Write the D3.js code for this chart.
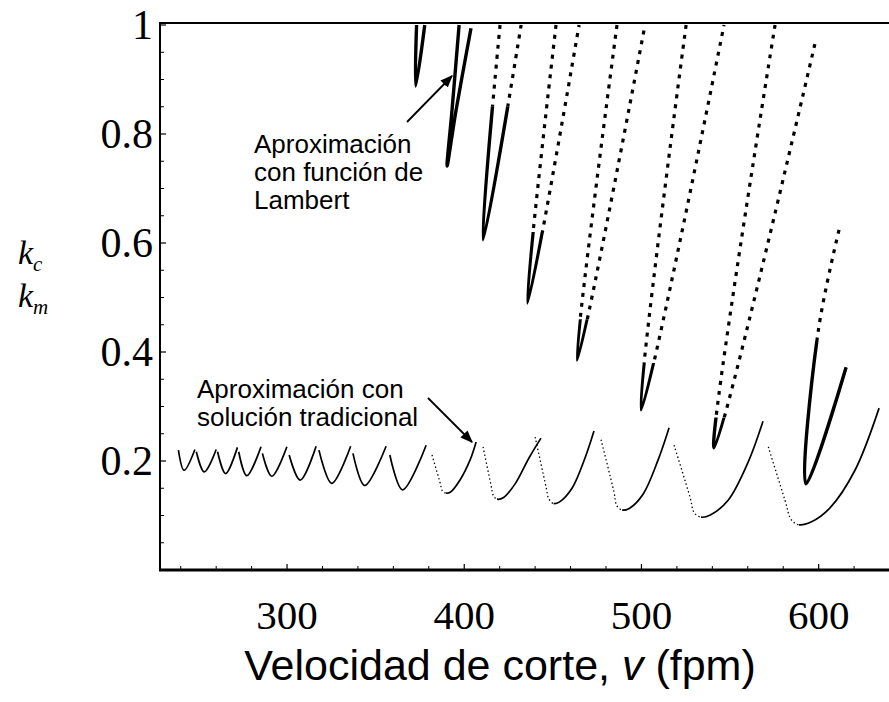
<!DOCTYPE html>
<html><head><meta charset="utf-8">
<script src="https://cdn.jsdelivr.net/npm/d3@7"></script>
<style>body{margin:0;background:#fff}</style>
</head><body><svg id="c" width="889" height="702"></svg>
<script>
const xTickValues=[300,400,500,600];
const yTickValues=[0.2,0.4,0.6,0.8,1];
const xMinorTicks=[240,260,280,320,340,360,380,420,440,460,480,520,540,560,580,620];
const yMinorTicks=[0.05,0.1,0.15,0.25,0.3,0.35,0.45,0.5,0.55,0.65,0.7,0.75,0.85,0.9,0.95];

// Traditional solution lobes: [v, k]
const traditionalLobes=[
 [[238.7,0.220],[241.9,0.183],[248.0,0.221]],
 [[248.8,0.217],[253.3,0.180],[260.0,0.221]],
 [[260.8,0.217],[265.3,0.177],[272.0,0.225]],
 [[272.7,0.217],[277.3,0.173],[285.3,0.226]],
 [[286.1,0.214],[291.4,0.172],[299.9,0.226]],
 [[301.2,0.211],[307.4,0.165],[316.4,0.227]],
 [[318.0,0.220],[325.2,0.159],[335.9,0.227]],
 [[337.2,0.214],[343.8,0.155],[355.9,0.227]],
 [[358.0,0.211],[365.2,0.147],[378.5,0.229]],
 [[381.8,0.211],[386.3,0.161],[387.7,0.145],[389.7,0.141],[392.3,0.143],[397.6,0.165],[403.3,0.202],[406.7,0.235]],
 [[410.6,0.226],[415.1,0.156],[416.5,0.136],[418.5,0.130],[422.2,0.133],[428.7,0.158],[436.6,0.206],[443.3,0.242]],
 [[440.0,0.244],[446.2,0.152],[447.8,0.130],[450.4,0.122],[453.8,0.125],[460.8,0.150],[468.2,0.206],[473.2,0.255]],
 [[477.2,0.239],[484.5,0.143],[486.1,0.118],[489.1,0.110],[493.1,0.113],[500.9,0.139],[509.4,0.202],[515.6,0.261]],
 [[518.4,0.229],[527.4,0.134],[529.8,0.105],[533.6,0.097],[538.9,0.101],[548.9,0.128],[560.2,0.198],[568.6,0.273]],
 [[571.6,0.226],[581.0,0.128],[584.6,0.092],[588.9,0.083],[595.7,0.088],[606.4,0.114],[620.5,0.183],[634.1,0.297]]
];
// lobes from this index on have a sparse (dotted) left branch
const tradSparseFrom=9;

// Lambert-function approximation lobes: [v, k]
const lambertLobes=[
 [[373.1,1.0],[372.6,0.888],[377.7,1.0]],
 [[397.1,1.0],[393.1,0.844],[390.3,0.741],[395.4,0.844],[403.8,0.994]],
 [[420.2,1.0],[410.6,0.606],[432.1,1.0]],
 [[451.8,1.0],[435.7,0.490],[464.8,1.0]],
 [[486.2,1.0],[463.7,0.385],[502.0,1.0]],
 [[525.2,1.0],[499.8,0.294],[546.6,1.0]],
 [[575.4,1.0],[541.0,0.224],[598.0,0.967]],
 [[611.5,0.624],[599.7,0.437],[592.9,0.158],[615.5,0.372]]
];
// level up to which the plotted points of each Lambert lobe are dense (drawn solid)
const lambertDenseTop=[1.0,1.0,0.85,0.62,0.46,0.38,0.28,0.42];

const svg=d3.select('#c');
const x=d3.scaleLinear().domain([228.3,639.7]).range([160,889]);
const y=d3.scaleLinear().domain([0,1]).range([570,25]);

// frame
svg.append('line').attr('x1',160).attr('x2',889).attr('y1',23).attr('y2',23).attr('stroke','#000').attr('stroke-width',2);
svg.append('line').attr('x1',160).attr('x2',160).attr('y1',22).attr('y2',570).attr('stroke','#000').attr('stroke-width',2);
svg.append('line').attr('x1',159).attr('x2',889).attr('y1',570).attr('y2',570).attr('stroke','#000').attr('stroke-width',3);

// ticks
const gx=svg.append('g');
gx.selectAll('line.maj').data(xTickValues).join('line').attr('class','maj').attr('x1',d=>x(d)).attr('x2',d=>x(d)).attr('y1',570).attr('y2',564).attr('stroke','#000').attr('stroke-width',1.2);
gx.selectAll('line.min').data(xMinorTicks).join('line').attr('class','min').attr('x1',d=>x(d)).attr('x2',d=>x(d)).attr('y1',570).attr('y2',566).attr('stroke','#000').attr('stroke-width',1);
gx.selectAll('text').data(xTickValues).join('text').attr('x',d=>x(d)).attr('y',629).attr('text-anchor','middle')
 .attr('font-family','Liberation Serif, Times New Roman, serif').attr('font-size',41).text(d=>d);
const gy=svg.append('g');
gy.selectAll('line.maj').data(yTickValues).join('line').attr('class','maj').attr('x1',160).attr('x2',166).attr('y1',d=>y(d)).attr('y2',d=>y(d)).attr('stroke','#000').attr('stroke-width',1.2);
gy.selectAll('line.min').data(yMinorTicks).join('line').attr('class','min').attr('x1',160).attr('x2',164).attr('y1',d=>y(d)).attr('y2',d=>y(d)).attr('stroke','#000').attr('stroke-width',1);
gy.selectAll('text').data(yTickValues).join('text').attr('x',153).attr('y',d=>y(d)+14).attr('text-anchor','end')
 .attr('font-family','Liberation Serif, Times New Roman, serif').attr('font-size',42).text(d=>d===1?'1':d.toFixed(1));

// axis titles
const kt=svg.append('g').attr('font-family','Liberation Serif, Times New Roman, serif').attr('font-style','italic');
kt.append('text').attr('x',18).attr('y',264).attr('font-size',34).html('k<tspan font-size="21" dy="7">c</tspan>');
kt.append('text').attr('x',18).attr('y',307).attr('font-size',34).html('k<tspan font-size="21" dy="7">m</tspan>');
svg.append('text').attr('x',500).attr('y',680).attr('text-anchor','middle').attr('font-family','Liberation Sans, Arial, sans-serif').attr('font-size',43)
 .html('Velocidad de corte, <tspan font-style="italic">v</tspan> (fpm)');

// curves
const line=d3.line().x(d=>x(d[0])).y(d=>y(d[1])).curve(d3.curveCatmullRom.alpha(0.5));
const plot=svg.append('g');
const defs=svg.append('defs');

traditionalLobes.forEach((lobe,i)=>{
  const mi=d3.minIndex(lobe,d=>d[1]);
  if(i<tradSparseFrom){
    plot.append('path').attr('d',line(lobe)).attr('fill','none').attr('stroke','#000').attr('stroke-width',1.7);
  } else {
    const cid='tc'+i, xm=x(lobe[mi][0]);
    defs.append('clipPath').attr('id',cid+'L').append('rect').attr('x',0).attr('y',0).attr('width',xm).attr('height',702);
    defs.append('clipPath').attr('id',cid+'R').append('rect').attr('x',xm).attr('y',0).attr('width',889).attr('height',702);
    plot.append('path').attr('d',line(lobe)).attr('clip-path',`url(#${cid}L)`).attr('fill','none').attr('stroke','#000')
      .attr('stroke-width',1.3).attr('stroke-dasharray','1.4 2.6');
    plot.append('path').attr('d',line(lobe)).attr('clip-path',`url(#${cid}R)`).attr('fill','none').attr('stroke','#000').attr('stroke-width',1.7);
  }
});

lambertLobes.forEach((lobe,i)=>{
  const cid='lc'+i, yd=y(lambertDenseTop[i]);
  defs.append('clipPath').attr('id',cid+'D').append('rect').attr('x',0).attr('y',yd).attr('width',889).attr('height',702);
  defs.append('clipPath').attr('id',cid+'S').append('rect').attr('x',0).attr('y',0).attr('width',889).attr('height',yd);
  plot.append('path').attr('d',line(lobe)).attr('clip-path',`url(#${cid}D)`).attr('fill','none').attr('stroke','#000').attr('stroke-width',3.4);
  plot.append('path').attr('d',line(lobe)).attr('clip-path',`url(#${cid}S)`).attr('fill','none').attr('stroke','#000')
    .attr('stroke-width',3.2).attr('stroke-dasharray','4 6');
});

// annotations
const ann=svg.append('g').attr('font-family','Liberation Sans, Arial, sans-serif').attr('font-size',26);
[['Aproximación',153],['con función de',181],['Lambert',209]].forEach(([t,yy])=>ann.append('text').attr('x',254).attr('y',yy).text(t));
[['Aproximación con',398],['solución tradicional',426]].forEach(([t,yy])=>ann.append('text').attr('x',197).attr('y',yy).text(t));
defs.append('marker').attr('id','ah').attr('viewBox','0 0 10 10').attr('refX',9).attr('refY',5)
 .attr('markerWidth',7).attr('markerHeight',7).attr('orient','auto').append('path').attr('d','M0,1L10,5L0,9z').attr('fill','#000');
svg.append('line').attr('x1',407).attr('y1',122).attr('x2',452).attr('y2',76).attr('stroke','#000').attr('stroke-width',1.8).attr('marker-end','url(#ah)');
svg.append('line').attr('x1',428).attr('y1',398).attr('x2',472).attr('y2',442).attr('stroke','#000').attr('stroke-width',1.8).attr('marker-end','url(#ah)');
</script></body></html>
